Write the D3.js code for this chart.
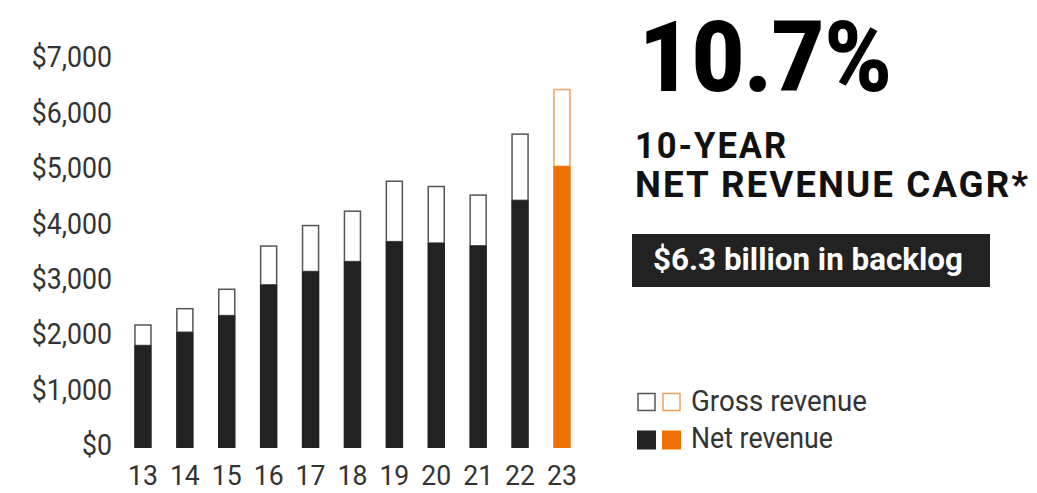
<!DOCTYPE html>
<html>
<head>
<meta charset="utf-8">
<script src="https://cdn.jsdelivr.net/npm/d3@7"></script>
<style>
  html, body { margin: 0; padding: 0; background: #fff; }
  svg { display: block; font-family: Roboto, "Noto Sans", sans-serif; }
</style>
</head>
<body>
<div id="chart"></div>
<script>
// Net / gross revenue by fiscal year ($ millions)
const years = ['13', '14', '15', '16', '17', '18', '19', '20', '21', '22', '23'];
const grossRevenue = [2220, 2515, 2865, 3645, 4015, 4275, 4815, 4720, 4565, 5665, 6470];
const netRevenue = [1850, 2090, 2390, 2945, 3185, 3365, 3725, 3700, 3650, 4470, 5085];
const yTicks = [0, 1000, 2000, 3000, 4000, 5000, 6000, 7000];
const legendItems = ['Gross revenue', 'Net revenue'];

const width = 1037, height = 493;
const DARK = '#222222', ORANGE = '#ee7203', GREY = '#555555', LIGHT_ORANGE = '#f4a05a';
const TEXT = '#333333';

const svg = d3.select('#chart').append('svg')
  .attr('width', width)
  .attr('height', height);

// squeeze Roboto to look like the condensed face in the original
const condense = (sel, factor) => {
  sel.each(function () {
    const w = this.getComputedTextLength();
    d3.select(this).attr('textLength', w * factor).attr('lengthAdjust', 'spacingAndGlyphs');
  });
};
const fitWidth = (sel, w) => sel.attr('textLength', w).attr('lengthAdjust', 'spacingAndGlyphs');

const x = d3.scaleBand()
  .domain(years)
  .range([122, 582.9])
  .paddingInner(0.582)
  .paddingOuter(0.291);

const y = d3.scaleLinear()
  .domain([0, 7000])
  .range([448, 60.2]);

// y axis labels
const yAxis = svg.append('g')
  .attr('transform', 'translate(112,-2.5)')
  .call(d3.axisLeft(y).tickValues(yTicks).tickSize(0).tickPadding(0)
    .tickFormat(d => '$' + d3.format(',')(d)));
yAxis.select('.domain').remove();
yAxis.selectAll('text')
  .attr('fill', TEXT)
  .attr('font-size', 29)
  .attr('font-family', 'Roboto')
  .call(condense, 0.92);

// x axis labels
const xAxis = svg.append('g')
  .attr('transform', 'translate(0,465)')
  .call(d3.axisBottom(x).tickSize(0).tickPadding(0));
xAxis.select('.domain').remove();
xAxis.selectAll('text')
  .attr('fill', TEXT)
  .attr('font-size', 28)
  .attr('font-family', 'Roboto')
  .call(condense, 0.95);

const data = years.map((yr, i) => ({ yr, gross: grossRevenue[i], net: netRevenue[i], last: i === years.length - 1 }));

// gross revenue (outlined top part)
svg.append('g').selectAll('rect')
  .data(data)
  .join('rect')
  .attr('x', d => x(d.yr) + 0.75)
  .attr('y', d => y(d.gross))
  .attr('width', x.bandwidth() - 1.5)
  .attr('height', d => y(d.net) - y(d.gross))
  .attr('fill', '#fff')
  .attr('stroke', d => d.last ? LIGHT_ORANGE : GREY)
  .attr('stroke-width', 1.5);

// net revenue
svg.append('g').selectAll('rect')
  .data(data)
  .join('rect')
  .attr('x', d => x(d.yr))
  .attr('y', d => y(d.net))
  .attr('width', x.bandwidth())
  .attr('height', d => y(0) - y(d.net))
  .attr('fill', d => d.last ? ORANGE : DARK);

// headline panel
const panel = svg.append('g');
panel.append('text')
  .attr('x', 639).attr('y', 91)
  .attr('font-size', 98).attr('font-weight', 900).attr('fill', '#000')
  .text('10.7%')
  .call(fitWidth, 253);

panel.append('text')
  .attr('x', 635).attr('y', 158)
  .attr('font-size', 36).attr('font-weight', 700).attr('fill', '#111')
  .attr('letter-spacing', 2)
  .text('10-YEAR')
  .call(fitWidth, 153);

panel.append('text')
  .attr('x', 635).attr('y', 197)
  .attr('font-size', 36).attr('font-weight', 700).attr('fill', '#111')
  .attr('letter-spacing', 2)
  .text('NET REVENUE CAGR*')
  .call(fitWidth, 395);

panel.append('rect')
  .attr('x', 632).attr('y', 234)
  .attr('width', 358).attr('height', 53)
  .attr('fill', DARK);

panel.append('text')
  .attr('x', 653).attr('y', 270)
  .attr('font-size', 31).attr('font-weight', 700).attr('fill', '#fff')
  .text('$6.3 billion in backlog')
  .call(fitWidth, 310);

// legend
const legend = svg.append('g');
const legendRows = [
  { label: legendItems[0], y: 392.5, filled: false, baseline: 411, w: 176 },
  { label: legendItems[1], y: 430.5, filled: true, baseline: 448, w: 142 }
];
legendRows.forEach(row => {
  const g = legend.append('g');
  if (row.filled) {
    g.append('rect').attr('x', 637).attr('y', row.y).attr('width', 19).attr('height', 19).attr('fill', DARK);
    g.append('rect').attr('x', 662).attr('y', row.y).attr('width', 19).attr('height', 19).attr('fill', ORANGE);
  } else {
    g.append('rect').attr('x', 638).attr('y', row.y + 1).attr('width', 17).attr('height', 17)
      .attr('fill', '#fff').attr('stroke', GREY).attr('stroke-width', 1.5);
    g.append('rect').attr('x', 663).attr('y', row.y + 1).attr('width', 17).attr('height', 17)
      .attr('fill', '#fff').attr('stroke', LIGHT_ORANGE).attr('stroke-width', 1.5);
  }
  g.append('text')
    .attr('x', 691).attr('y', row.baseline)
    .attr('font-size', 30).attr('fill', TEXT)
    .text(row.label)
    .call(fitWidth, row.w);
});
</script>
</body>
</html>
